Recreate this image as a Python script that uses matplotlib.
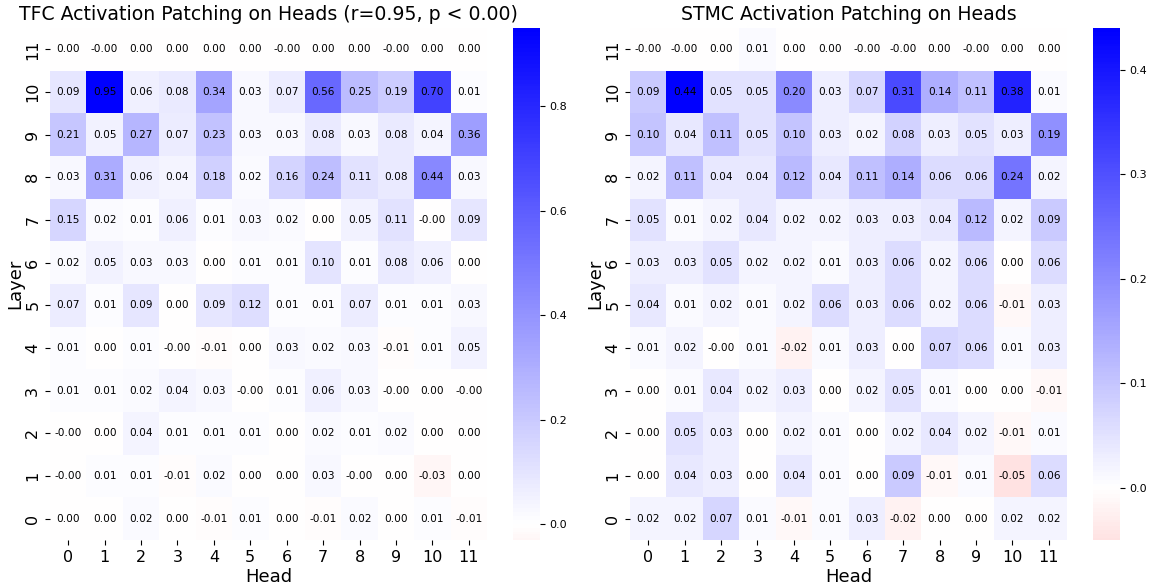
import numpy as np
import matplotlib
matplotlib.use("Agg")
import matplotlib.pyplot as plt
import seaborn as sns

heads = list(range(12))
layers = list(range(12))

# rows: layer 0 .. 11, columns: head 0 .. 11
tfc_values = [
    [0.00, 0.00, 0.02, 0.00, -0.01, 0.01, 0.00, -0.01, 0.02, 0.00, 0.01, -0.01],
    [-0.001, 0.01, 0.01, -0.01, 0.02, 0.00, 0.00, 0.03, -0.001, 0.00, -0.03, 0.00],
    [-0.001, 0.00, 0.04, 0.01, 0.01, 0.01, 0.00, 0.02, 0.01, 0.02, 0.00, 0.00],
    [0.01, 0.01, 0.02, 0.04, 0.03, -0.001, 0.01, 0.06, 0.03, -0.001, 0.00, -0.001],
    [0.01, 0.00, 0.01, -0.001, -0.01, 0.00, 0.03, 0.02, 0.03, -0.01, 0.01, 0.05],
    [0.07, 0.01, 0.09, 0.00, 0.09, 0.12, 0.01, 0.01, 0.07, 0.01, 0.01, 0.03],
    [0.02, 0.05, 0.03, 0.03, 0.00, 0.01, 0.01, 0.10, 0.01, 0.08, 0.06, 0.00],
    [0.15, 0.02, 0.01, 0.06, 0.01, 0.03, 0.02, 0.00, 0.05, 0.11, -0.001, 0.09],
    [0.03, 0.31, 0.06, 0.04, 0.18, 0.02, 0.16, 0.24, 0.11, 0.08, 0.44, 0.03],
    [0.21, 0.05, 0.27, 0.07, 0.23, 0.03, 0.03, 0.08, 0.03, 0.08, 0.04, 0.36],
    [0.09, 0.95, 0.06, 0.08, 0.34, 0.03, 0.07, 0.56, 0.25, 0.19, 0.70, 0.01],
    [0.00, -0.001, 0.00, 0.00, 0.00, 0.00, -0.001, 0.00, 0.00, -0.001, 0.00, 0.00],
]

stmc_values = [
    [0.02, 0.02, 0.07, 0.01, -0.01, 0.01, 0.03, -0.02, 0.00, 0.00, 0.02, 0.02],
    [0.00, 0.04, 0.03, 0.00, 0.04, 0.01, 0.00, 0.09, -0.01, 0.01, -0.05, 0.06],
    [0.00, 0.05, 0.03, 0.00, 0.02, 0.01, 0.00, 0.02, 0.04, 0.02, -0.01, 0.01],
    [0.00, 0.01, 0.04, 0.02, 0.03, 0.00, 0.02, 0.05, 0.01, 0.00, 0.00, -0.01],
    [0.01, 0.02, -0.001, 0.01, -0.02, 0.01, 0.03, 0.00, 0.07, 0.06, 0.01, 0.03],
    [0.04, 0.01, 0.02, 0.01, 0.02, 0.06, 0.03, 0.06, 0.02, 0.06, -0.01, 0.03],
    [0.03, 0.03, 0.05, 0.02, 0.02, 0.01, 0.03, 0.06, 0.02, 0.06, 0.00, 0.06],
    [0.05, 0.01, 0.02, 0.04, 0.02, 0.02, 0.03, 0.03, 0.04, 0.12, 0.02, 0.09],
    [0.02, 0.11, 0.04, 0.04, 0.12, 0.04, 0.11, 0.14, 0.06, 0.06, 0.24, 0.02],
    [0.10, 0.04, 0.11, 0.05, 0.10, 0.03, 0.02, 0.08, 0.03, 0.05, 0.03, 0.19],
    [0.09, 0.44, 0.05, 0.05, 0.20, 0.03, 0.07, 0.31, 0.14, 0.11, 0.38, 0.01],
    [-0.001, -0.001, 0.00, 0.01, 0.00, 0.00, -0.001, -0.001, 0.00, -0.001, 0.00, 0.00],
]

titles = [
    "TFC Activation Patching on Heads (r=0.95, p < 0.00)",
    "STMC Activation Patching on Heads",
]

W, H = 1151, 586
fig = plt.figure(figsize=(W / 100, H / 100), dpi=100)


def px_axes(x0, y0, x1, y1):
    return fig.add_axes([x0 / W, 1 - y1 / H, (x1 - x0) / W, (y1 - y0) / H])


panels = [
    (tfc_values, titles[0], (50, 28, 487, 540), (513, 28, 540, 540)),
    (stmc_values, titles[1], (630, 28, 1067, 540), (1093, 28, 1120, 540)),
]

for vals, title, hm_box, cb_box in panels:
    ax = px_axes(*hm_box)
    cax = px_axes(*cb_box)
    data = np.array(vals)
    sns.heatmap(
        data, ax=ax, cbar_ax=cax, cmap="bwr_r", center=0,
        annot=True, fmt=".2f",
        annot_kws={"size": 7.6, "color": "black"},
        xticklabels=heads, yticklabels=layers,
    )
    ax.invert_yaxis()
    ax.set_title(title, fontsize=13.6)
    ax.set_xlabel("Head", fontsize=13, labelpad=2)
    ax.set_ylabel("Layer", fontsize=13, labelpad=1)
    ax.tick_params(axis="both", labelsize=11.5)
    for t in ax.get_yticklabels():
        t.set_rotation(90)
        t.set_va("center")
    cax.tick_params(labelsize=8)

fig.savefig("out.png", dpi=100)
